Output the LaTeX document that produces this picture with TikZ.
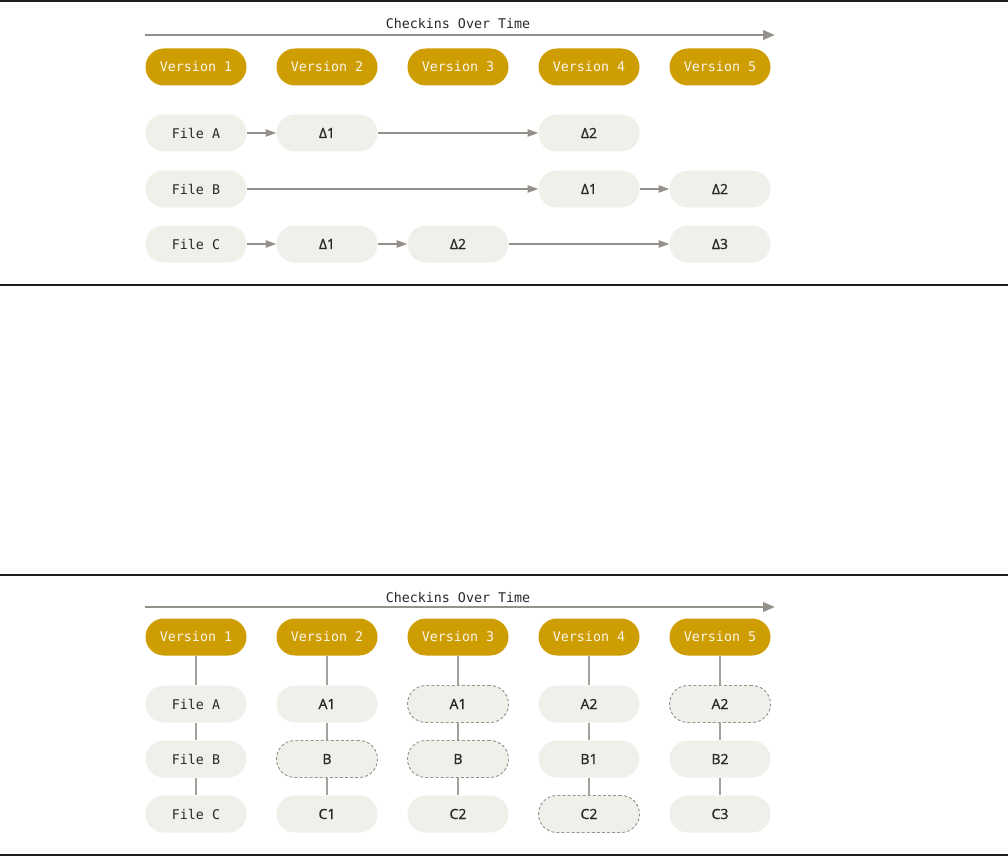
\documentclass[tikz,border=0pt]{standalone}
\usepackage{fontspec}
\setmonofont{DejaVu Sans Mono}
\newfontfamily\labfont[RawFeature={embolden=1.2}]{Open Sans}
\usetikzlibrary{arrows.meta}
\definecolor{gold}{RGB}{205,157,2}
\definecolor{pillc}{RGB}{240,239,233}
\definecolor{agray}{RGB}{150,144,138}
\definecolor{lgray}{RGB}{165,160,155}
\definecolor{txt}{RGB}{40,40,40}
\definecolor{vtxt}{RGB}{250,246,232}
\definecolor{dashc}{RGB}{150,148,142}
\definecolor{rulec}{RGB}{30,30,30}
\begin{document}
\begin{tikzpicture}[x=0.75pt,y=-0.75pt,
  pill/.style={rectangle, rounded corners=13.8pt, minimum width=75.75pt, minimum height=27.75pt, inner sep=0pt, fill=pillc, text=txt},
  ver/.style={pill, fill=gold, text=vtxt, font=\ttfamily\fontsize{10}{12}\selectfont},
  filen/.style={pill, font=\ttfamily\fontsize{10}{12}\selectfont},
  dnode/.style={pill, font=\labfont\fontsize{10.5}{12}\selectfont},
  ghost/.style={dnode, draw=dashc, dash pattern=on 2.2pt off 1.6pt, line width=0.7pt},
  flow/.style={draw=agray, line width=0.9pt, -{Triangle[length=8pt,width=5.5pt]}},
  link/.style={draw=lgray, line width=0.9pt},
  axis/.style={draw=agray, line width=2pt, -{Triangle[length=9pt,width=7pt]}},
  title/.style={font=\ttfamily\fontsize{10}{12}\selectfont, text=txt, inner sep=0pt},
  panelrule/.style={draw=rulec, line width=1.4pt}]
\useasboundingbox (0,0) rectangle (1008,856);
% panel rules
\draw[panelrule] (0,1) -- (1008,1);
\draw[panelrule] (0,285) -- (1008,285);
\draw[panelrule] (0,575) -- (1008,575);
\draw[panelrule] (0,855) -- (1008,855);

% ---------- top panel ----------
\node[title] (t-title) at (458,24) {Checkins Over Time};
\coordinate (t-s) at (145,35);
\coordinate (t-e) at (775,35);
\draw[axis] (t-s) -- (t-e);

\node[ver] (t-v1) at (196,67) {Version 1};
\node[ver] (t-v2) at (327,67) {Version 2};
\node[ver] (t-v3) at (458,67) {Version 3};
\node[ver] (t-v4) at (589,67) {Version 4};
\node[ver] (t-v5) at (720,67) {Version 5};

\node[filen] (t-fa) at (196,133) {File A};
\node[dnode] (t-a1) at (327,133) {Δ1};
\node[dnode] (t-a2) at (589,133) {Δ2};

\node[filen] (t-fb) at (196,189) {File B};
\node[dnode] (t-b1) at (589,189) {Δ1};
\node[dnode] (t-b2) at (720,189) {Δ2};

\node[filen] (t-fc) at (196,244) {File C};
\node[dnode] (t-c1) at (327,244) {Δ1};
\node[dnode] (t-c2) at (458,244) {Δ2};
\node[dnode] (t-c3) at (720,244) {Δ3};

\draw[flow] (t-fa) -- (t-a1);
\draw[flow] (t-a1) -- (t-a2);
\draw[flow] (t-fb) -- (t-b1);
\draw[flow] (t-b1) -- (t-b2);
\draw[flow] (t-fc) -- (t-c1);
\draw[flow] (t-c1) -- (t-c2);
\draw[flow] (t-c2) -- (t-c3);

% ---------- bottom panel ----------
\node[title] (b-title) at (458,598) {Checkins Over Time};
\coordinate (b-s) at (145,607);
\coordinate (b-e) at (775,607);
\draw[axis] (b-s) -- (b-e);

\node[ver] (b-v1) at (196,637) {Version 1};
\node[ver] (b-v2) at (327,637) {Version 2};
\node[ver] (b-v3) at (458,637) {Version 3};
\node[ver] (b-v4) at (589,637) {Version 4};
\node[ver] (b-v5) at (720,637) {Version 5};

\node[filen] (b-a1) at (196,704) {File A};
\node[filen] (b-b1) at (196,759) {File B};
\node[filen] (b-c1) at (196,814) {File C};

\node[dnode] (b-a2) at (327,704) {A1};
\node[ghost] (b-b2) at (327,759) {B};
\node[dnode] (b-c2) at (327,814) {C1};

\node[ghost] (b-a3) at (458,704) {A1};
\node[ghost] (b-b3) at (458,759) {B};
\node[dnode] (b-c3) at (458,814) {C2};

\node[dnode] (b-a4) at (589,704) {A2};
\node[dnode] (b-b4) at (589,759) {B1};
\node[ghost] (b-c4) at (589,814) {C2};

\node[ghost] (b-a5) at (720,704) {A2};
\node[dnode] (b-b5) at (720,759) {B2};
\node[dnode] (b-c5) at (720,814) {C3};

\foreach \i in {1,...,5}{
  \draw[link] (b-v\i) -- (b-a\i);
  \draw[link] (b-a\i) -- (b-b\i);
  \draw[link] (b-b\i) -- (b-c\i);
}
\end{tikzpicture}
\end{document}
